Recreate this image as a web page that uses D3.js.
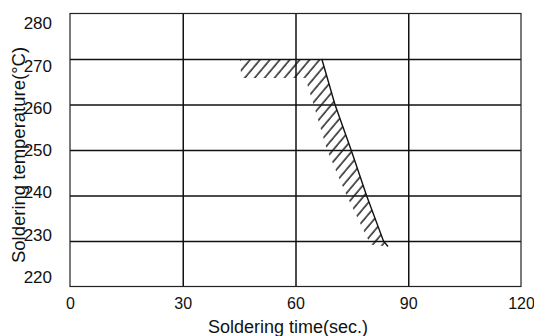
<!DOCTYPE html>
<html>
<head>
<meta charset="utf-8">
<script src="https://cdn.jsdelivr.net/npm/d3@7"></script>
<style>
  html, body { margin: 0; padding: 0; background: #fff; }
  svg { display: block; }
  text { font-family: "Liberation Sans", Arial, Helvetica, sans-serif; fill: #111; }
</style>
</head>
<body>
<div id="chart"></div>
<script>
// axis ticks
const xTicks = [0, 30, 60, 90, 120];
const yTicks = [220, 230, 240, 250, 260, 270, 280];

// recommended soldering limit (outer edge of the hatched zone)
const limitTime = [67, 70.5, 74.8, 78.9, 83.4, 84.6];
const limitTemp = [270, 260, 250, 240, 230, 228.8];

// hatched zone outline: outer edge then back along the inner edge
const zoneTime = [45.2, 67, 70.5, 74.8, 78.9, 83.4, 84.6, 80.2, 79.5, 73.6, 68.4, 64.8, 62.6, 45.6];
const zoneTemp = [270, 270, 260, 250, 240, 230, 228.8, 229.2, 230, 240, 250, 260, 265.8, 265.8];

const W = 534, H = 336;
const plotL = 70, plotR = 521, plotT = 13.5, plotB = 286.5;

const svg = d3.select('#chart').append('svg')
  .attr('width', W)
  .attr('height', H);

const x = d3.scaleLinear().domain([0, 120]).range([plotL, plotR]);
const y = d3.scaleLinear().domain([220, 280]).range([plotB, plotT]);
// the printed tick labels sit a bit tighter than the grid
const yLab = d3.scaleLinear().domain([220, 280]).range([277, 23.5]);

// hatch pattern
const defs = svg.append('defs');
defs.append('pattern')
  .attr('id', 'hatch')
  .attr('patternUnits', 'userSpaceOnUse')
  .attr('width', 7.6)
  .attr('height', 10)
  .attr('patternTransform', 'rotate(40)')
  .append('line')
    .attr('x1', 2).attr('y1', 0)
    .attr('x2', 2).attr('y2', 10)
    .attr('stroke', '#111')
    .attr('stroke-width', 1.4);

// gridlines
svg.append('g')
  .attr('transform', `translate(0,${plotB})`)
  .call(d3.axisBottom(x).tickValues([30, 60, 90]).tickSize(-(plotB - plotT)).tickFormat(''))
  .call(g => g.select('.domain').remove())
  .call(g => g.selectAll('line').attr('stroke', '#111').attr('stroke-width', 1.5));

svg.append('g')
  .attr('transform', `translate(${plotL},0)`)
  .call(d3.axisLeft(y).tickValues([230, 240, 250, 260, 270]).tickSize(-(plotR - plotL)).tickFormat(''))
  .call(g => g.select('.domain').remove())
  .call(g => g.selectAll('line').attr('stroke', '#111').attr('stroke-width', 1.7));

// frame
svg.append('rect')
  .attr('x', plotL).attr('y', plotT)
  .attr('width', plotR - plotL).attr('height', plotB - plotT)
  .attr('fill', 'none')
  .attr('stroke', '#222')
  .attr('stroke-width', 1.2);

// hatched zone
const zone = zoneTime.map((t, i) => [x(t), y(zoneTemp[i])]);
svg.append('path')
  .attr('d', d3.line()(zone) + 'Z')
  .attr('fill', 'url(#hatch)')
  .attr('stroke', 'none');

// limit line
const limit = limitTime.map((t, i) => [x(t), y(limitTemp[i])]);
svg.append('path')
  .attr('d', d3.line()(limit))
  .attr('fill', 'none')
  .attr('stroke', '#111')
  .attr('stroke-width', 1.4);

// tick labels
svg.append('g')
  .attr('transform', 'translate(52,0)')
  .call(d3.axisLeft(yLab).tickValues(yTicks).tickSize(0).tickPadding(0))
  .call(g => g.select('.domain').remove())
  .call(g => g.selectAll('text')
    .attr('fill', '#111')
    .style('font-family', '"Liberation Sans Narrow", "Liberation Sans", Arial, sans-serif')
    .style('font-size', '17px'));

svg.append('g')
  .attr('transform', `translate(0,${plotB})`)
  .call(d3.axisBottom(x).tickValues(xTicks).tickSize(0).tickPadding(11))
  .call(g => g.select('.domain').remove())
  .call(g => g.selectAll('text')
    .attr('fill', '#111')
    .style('font-family', '"Liberation Sans", Arial, sans-serif')
    .style('font-size', '16px'));

// axis titles
svg.append('text')
  .attr('x', 288)
  .attr('y', 333)
  .attr('text-anchor', 'middle')
  .style('font-size', '18px')
  .text('Soldering time(sec.)');

svg.append('text')
  .attr('transform', 'translate(25,155) rotate(-90)')
  .attr('text-anchor', 'middle')
  .style('font-size', '18.5px')
  .text('Soldering temperature(°C)');
</script>
</body>
</html>
